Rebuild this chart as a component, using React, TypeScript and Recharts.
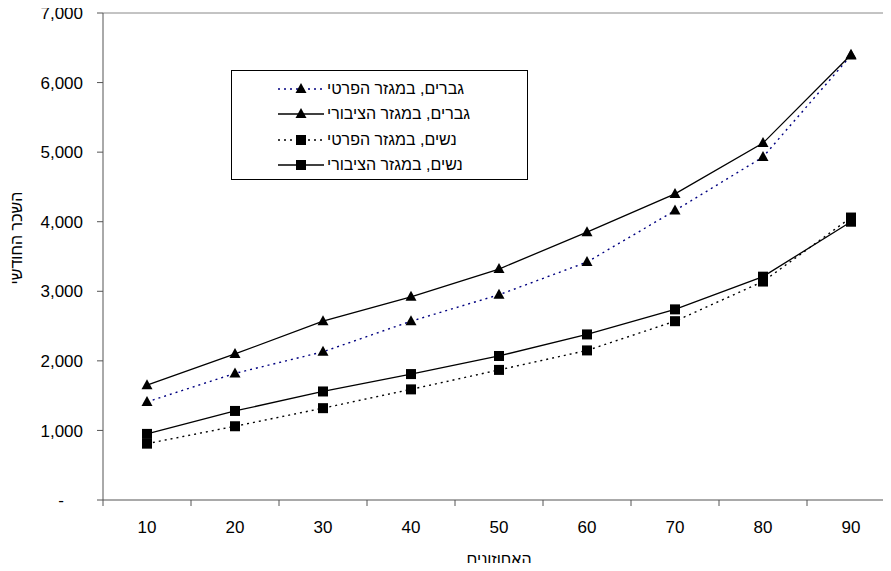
import React from 'react';
import { LineChart, Line, XAxis, YAxis, ReferenceLine } from 'recharts';

const categories = [10, 20, 30, 40, 50, 60, 70, 80, 90];
const menPrivate = [1410, 1820, 2130, 2570, 2950, 3420, 4160, 4930, 6390];
const menPublic = [1650, 2100, 2570, 2920, 3320, 3850, 4400, 5130, 6400];
const womenPrivate = [810, 1060, 1320, 1590, 1870, 2150, 2570, 3140, 4060];
const womenPublic = [950, 1280, 1560, 1810, 2070, 2380, 2740, 3210, 4000];
const yTicks = [0, 1000, 2000, 3000, 4000, 5000, 6000, 7000];
const xTicks = [5, 10, 15, 20, 25, 30, 35, 40, 45, 50, 55, 60, 65, 70, 75, 80, 85, 90, 95];
const seriesNames = ['גברים, במגזר הפרטי', 'גברים, במגזר הציבורי', 'נשים, במגזר הפרטי', 'נשים, במגזר הציבורי'];
const xTitle = 'האחוזונים';
const yTitle = 'השכר החודשי';

const FONT = "'Liberation Sans', Arial, sans-serif";

const data = categories.map((c, i) => ({
  p: c,
  menPrivate: menPrivate[i],
  menPublic: menPublic[i],
  womenPrivate: womenPrivate[i],
  womenPublic: womenPublic[i],
}));

type Shape = 'tri' | 'sq';
const series: { key: string; name: string; color: string; dash?: string; shape: Shape; width: number }[] = [
  { key: 'womenPrivate', name: seriesNames[2], color: '#000000', dash: '2 4', shape: 'sq', width: 1.4 },
  { key: 'womenPublic', name: seriesNames[3], color: '#000000', shape: 'sq', width: 1.3 },
  { key: 'menPrivate', name: seriesNames[0], color: '#000080', dash: '2 4', shape: 'tri', width: 1.4 },
  { key: 'menPublic', name: seriesNames[1], color: '#000000', shape: 'tri', width: 1.3 },
];
const legendOrder = ['menPrivate', 'menPublic', 'womenPrivate', 'womenPublic'];

const marker = (shape: Shape, cx: number, cy: number, key?: string) =>
  shape === 'tri' ? (
    <path key={key} d={`M${cx},${cy - 6} L${cx + 5.5},${cy + 4} L${cx - 5.5},${cy + 4} Z`} fill="#000" />
  ) : (
    <rect key={key} x={cx - 5} y={cy - 5} width={10} height={10} fill="#000" />
  );

const makeDot = (shape: Shape) => (props: any) => {
  const { cx, cy, index } = props;
  if (cx == null || cy == null) return <g key={`e${index}`} />;
  return marker(shape, cx, cy, `${shape}${index}`);
};

const XTick = (props: any) => {
  const { x, y, payload } = props;
  const v = payload.value as number;
  if (v % 10 === 5) {
    return <line x1={x} x2={x} y1={y - 6} y2={y} stroke="#555" strokeWidth={1} />;
  }
  return (
    <text x={x} y={y + 27} textAnchor="middle" fontSize={17} fontFamily={FONT} fill="#000">
      {v}
    </text>
  );
};

const YTick = (props: any) => {
  const { x, y, payload } = props;
  const v = payload.value as number;
  if (v === 0) {
    return (
      <text x={61} y={y} dy="0.36em" textAnchor="middle" fontSize={17} fontFamily={FONT} fill="#000">
        -
      </text>
    );
  }
  return (
    <text x={x} y={y} dy="0.36em" textAnchor="end" fontSize={17} fontFamily={FONT} fill="#000">
      {v.toLocaleString('en-US')}
    </text>
  );
};

const LegendBox = () => (
  <div
    style={{
      position: 'absolute',
      left: 231,
      top: 70,
      width: 297,
      height: 110,
      boxSizing: 'border-box',
      border: '1px solid #000',
      background: '#fff',
      paddingTop: 5,
      fontFamily: FONT,
      fontSize: 16,
    }}
  >
    {legendOrder.map((k) => {
      const s = series.find((q) => q.key === k)!;
      return (
        <div key={k} style={{ height: 25.5, display: 'flex', alignItems: 'center', paddingLeft: 46 }}>
          <svg width={46} height={14} style={{ display: 'block' }}>
            <line x1={0} x2={46} y1={7} y2={7} stroke={s.color} strokeWidth={s.width} strokeDasharray={s.dash} />
            {marker(s.shape, 23, 7)}
          </svg>
          <div dir="rtl" style={{ marginLeft: 3, whiteSpace: 'nowrap', color: '#000' }}>{s.name}</div>
        </div>
      );
    })}
  </div>
);

export default function App() {
  return (
    <div style={{ margin: -8, width: 891, height: 571, overflow: 'hidden', position: 'relative', background: '#fff' }}>
      <LineChart width={900} height={571} data={data} margin={{ top: 13, right: 5, left: 0, bottom: 0 }}>
        <XAxis
          dataKey="p"
          type="number"
          domain={[5, 95]}
          ticks={xTicks}
          interval={0}
          tickLine={false}
          tickSize={6}
          tickMargin={0}
          height={71}
          stroke="#555"
          tick={<XTick />}
          label={(p: any) => {
            const vb = p.viewBox;
            return (
              <text x={vb.x + vb.width / 2} y={vb.y + 65} textAnchor="middle" fontSize={16} fontFamily={FONT} fill="#000">
                {xTitle}
              </text>
            );
          }}
        />
        <YAxis
          type="number"
          domain={[0, 7000]}
          ticks={yTicks}
          interval={0}
          width={103}
          tickSize={6}
          tickMargin={14}
          stroke="#555"
          tick={<YTick />}
          label={() => (
            <text x={16} y={238} transform="rotate(-90 16 238)" textAnchor="middle" dominantBaseline="central" fontSize={16} fontFamily={FONT} fill="#000">
              {yTitle}
            </text>
          )}
        />
        <ReferenceLine y={7000} stroke="#888" />
        {series.map((s) => (
          <Line
            key={s.key}
            dataKey={s.key}
            name={s.name}
            stroke={s.color}
            strokeWidth={s.width}
            strokeDasharray={s.dash}
            dot={makeDot(s.shape)}
            activeDot={false}
            isAnimationActive={false}
          />
        ))}
      </LineChart>
      <LegendBox />
    </div>
  );
}
